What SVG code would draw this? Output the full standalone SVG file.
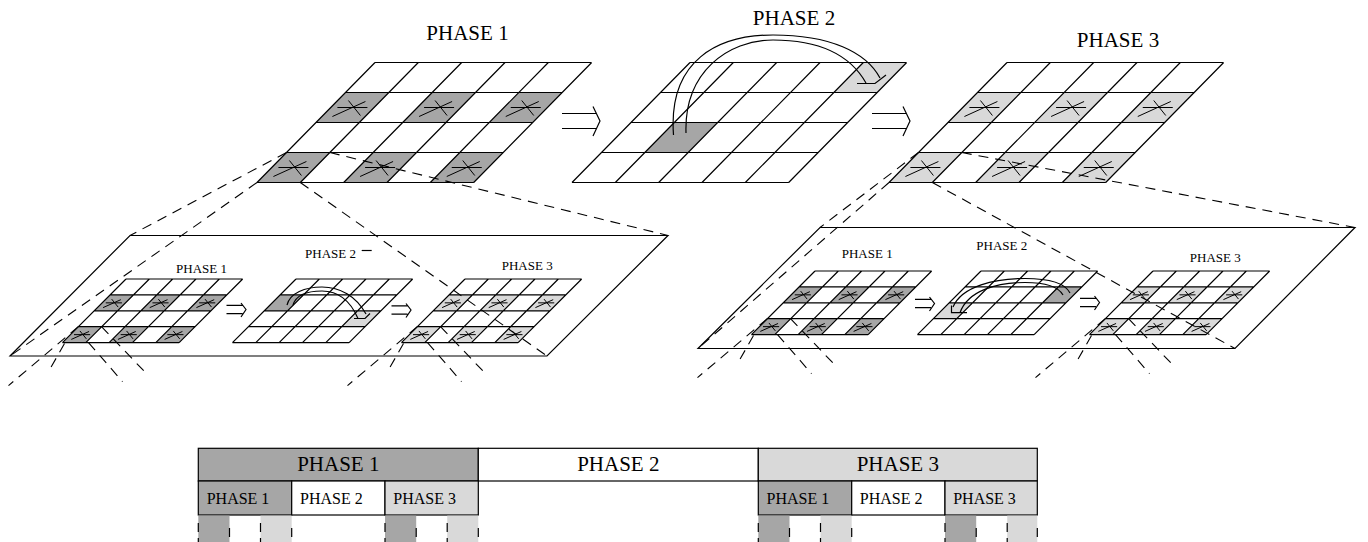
<svg xmlns="http://www.w3.org/2000/svg" xmlns:xlink="http://www.w3.org/1999/xlink" width="1368" height="542" viewBox="0 0 1368 542">
<style>
.ln{fill:none;stroke:#000;stroke-width:1.2}
.mk{fill:none;stroke:#000;stroke-width:1}
.dash{fill:none;stroke:#000;stroke-width:1.1;stroke-dasharray:10 7}
.dk{fill:#a6a6a6}
.lt{fill:#d9d9d9}
.wh{fill:#fff}
.box{stroke:#000;stroke-width:1.2}
.t1{font-family:"Liberation Serif","Times New Roman",serif;font-size:21px;text-anchor:middle;fill:#000}
.t2{font-family:"Liberation Serif","Times New Roman",serif;font-size:13px;text-anchor:middle;fill:#000}
.t3{font-family:"Liberation Serif","Times New Roman",serif;font-size:16px;fill:#000}
</style>
<defs>
<polygon id="bg" points="0,0 216.67,0 98.67,120 -118,120" fill="#fff"/>
<path id="gl" vector-effect="non-scaling-stroke" fill="none" stroke="#000" stroke-width="1.2" d="M0,0 H216.67 M-29.5,30 H187.17 M-59,60 H157.67 M-88.5,90 H128.17 M-118,120 H98.67 M0,0 L-118,120 M43.33,0 L-74.67,120 M86.67,0 L-31.33,120 M130,0 L12,120 M173.33,0 L55.33,120 M216.67,0 L98.67,120"/>
<g id="cells6">
<polygon points="-29.5,30 13.83,30 -15.67,60 -59,60"/>
<polygon points="57.17,30 100.5,30 71,60 27.67,60"/>
<polygon points="143.83,30 187.17,30 157.67,60 114.33,60"/>
<polygon points="-88.5,90 -45.17,90 -74.67,120 -118,120"/>
<polygon points="-1.83,90 41.5,90 12,120 -31.33,120"/>
<polygon points="84.83,90 128.17,90 98.67,120 55.33,120"/>
</g>
<path id="mk" vector-effect="non-scaling-stroke" fill="none" stroke="#000" stroke-width="1" d="M-15,0 H15 M-20,9 L13,-6 M-4,-7 L8,8"/>
<g id="marks6">
<use xlink:href="#mk" x="-22.58" y="45"/>
<use xlink:href="#mk" x="64.08" y="45"/>
<use xlink:href="#mk" x="150.75" y="45"/>
<use xlink:href="#mk" x="-81.58" y="105"/>
<use xlink:href="#mk" x="5.08" y="105"/>
<use xlink:href="#mk" x="91.75" y="105"/>
</g>
<path id="arrBig" class="ln" d="M0,-7.5 H34 M0,7.5 H34 M31,-14.5 L38,0 L31,15"/>
<path id="arrSm" class="ln" d="M0,-4.2 H16 M0,4.2 H16 M14.5,-6.5 L19.5,0 L14.5,7.5"/>
</defs>

<g id="plane-left">
<polygon class="box" fill="#fff" points="130,235.5 668,235.5 547,356 10,356"/>
</g>
<g id="plane-right">
<polygon class="box" fill="#fff" points="820,227.5 1355,227.5 1235,348.5 698,348.5"/>
</g>

<g id="left-phase1">
<g transform="translate(126,279) scale(0.5385,0.53)">
<use xlink:href="#bg"/><use xlink:href="#cells6" class="dk"/><use xlink:href="#gl"/><use xlink:href="#marks6"/>
</g>
<text class="t2" x="201.5" y="273.3">PHASE 1</text>
</g>
<g id="left-phase2">
<g transform="translate(296,279) scale(0.5385,0.53)">
<use xlink:href="#bg"/>
<polygon class="dk" points="-29.5,30 13.83,30 -15.67,60 -59,60"/>
<polygon class="lt" points="114.33,60 157.67,60 128.17,90 84.83,90"/>
<use xlink:href="#gl"/>
</g>
<text class="t2" x="330.5" y="258">PHASE 2</text>
</g>
<g id="left-phase3">
<g transform="translate(465,279) scale(0.5385,0.53)">
<use xlink:href="#bg"/><use xlink:href="#cells6" class="lt"/><use xlink:href="#gl"/><use xlink:href="#marks6"/>
</g>
<text class="t2" x="527.2" y="270">PHASE 3</text>
</g>

<g id="right-phase1">
<g transform="translate(815,271) scale(0.5385,0.53)">
<use xlink:href="#bg"/><use xlink:href="#cells6" class="dk"/><use xlink:href="#gl"/><use xlink:href="#marks6"/>
</g>
<text class="t2" x="867.2" y="258.3">PHASE 1</text>
</g>
<g id="right-phase2">
<g transform="translate(981,271) scale(0.5385,0.53)">
<use xlink:href="#bg"/>
<polygon class="dk" points="143.83,30 187.17,30 157.67,60 114.33,60"/>
<polygon class="lt" points="-59,60 -15.67,60 -45.17,90 -88.5,90"/>
<use xlink:href="#gl"/>
</g>
<text class="t2" x="1001.8" y="250">PHASE 2</text>
</g>
<g id="right-phase3">
<g transform="translate(1153,271) scale(0.5385,0.53)">
<use xlink:href="#bg"/><use xlink:href="#cells6" class="lt"/><use xlink:href="#gl"/><use xlink:href="#marks6"/>
</g>
<text class="t2" x="1215.3" y="261.7">PHASE 3</text>
</g>

<g id="top-phase1">
<g transform="translate(375,62.5)">
<use xlink:href="#bg"/><use xlink:href="#cells6" class="dk"/><use xlink:href="#gl"/><use xlink:href="#marks6"/>
</g>
<text class="t1" x="467.5" y="40">PHASE 1</text>
</g>
<g id="top-phase2">
<g transform="translate(690,62.5)">
<use xlink:href="#bg"/>
<polygon class="dk" points="-15.67,60 27.67,60 -1.83,90 -45.17,90"/>
<polygon class="lt" points="173.33,0 216.67,0 187.17,30 143.83,30"/>
<use xlink:href="#gl"/>
</g>
<text class="t1" x="794" y="25">PHASE 2</text>
</g>
<g id="top-phase3">
<g transform="translate(1007,62.5)">
<use xlink:href="#bg"/><use xlink:href="#cells6" class="lt"/><use xlink:href="#gl"/><use xlink:href="#marks6"/>
</g>
<text class="t1" x="1118" y="46.5">PHASE 3</text>
</g>

<g id="bar">
<rect class="dk box" x="198.3" y="448.3" width="280" height="32.7"/>
<rect class="wh box" x="478.3" y="448.3" width="280" height="32.7"/>
<rect class="lt box" x="758.3" y="448.3" width="279" height="32.7"/>
<rect class="dk box" x="198.3" y="481" width="93.4" height="34"/>
<rect class="wh box" x="291.7" y="481" width="93.3" height="34"/>
<rect class="lt box" x="385" y="481" width="93.3" height="34"/>
<rect class="dk box" x="758.3" y="481" width="93.4" height="34"/>
<rect class="wh box" x="851.7" y="481" width="93.3" height="34"/>
<rect class="lt box" x="945" y="481" width="92.3" height="34"/>
<text class="t1" x="338.3" y="471">PHASE 1</text>
<text class="t1" x="618.3" y="471">PHASE 2</text>
<text class="t1" x="897.8" y="471">PHASE 3</text>
<text class="t3" x="206.7" y="504">PHASE 1</text>
<text class="t3" x="300" y="504">PHASE 2</text>
<text class="t3" x="393.3" y="504">PHASE 3</text>
<text class="t3" x="766.5" y="504">PHASE 1</text>
<text class="t3" x="859.8" y="504">PHASE 2</text>
<text class="t3" x="953.2" y="504">PHASE 3</text>
<rect class="dk" x="198.3" y="515.6" width="31.2" height="27"/>
<rect class="lt" x="260.5" y="515.6" width="31.2" height="27"/>
<rect class="dk" x="385" y="515.6" width="31.2" height="27"/>
<rect class="lt" x="447.2" y="515.6" width="31.1" height="27"/>
<rect class="dk" x="758.3" y="515.6" width="31.2" height="27"/>
<rect class="lt" x="820.5" y="515.6" width="31.2" height="27"/>
<rect class="dk" x="945" y="515.6" width="31.2" height="27"/>
<rect class="lt" x="1007.2" y="515.6" width="30.1" height="27"/>
<path class="ln" d="M198.3,523 V532 M198.3,538 V542 M229.5,528 V537 M260.5,523 V532 M260.5,538 V542 M291.7,528 V537 M385,523 V532 M385,538 V542 M416.2,528 V537 M447.2,523 V532 M447.2,538 V542 M478.3,528 V537 M758.3,523 V532 M758.3,538 V542 M789.5,528 V537 M820.5,523 V532 M820.5,538 V542 M851.7,528 V537 M945,523 V532 M945,538 V542 M976.2,528 V537 M1007.2,523 V532 M1007.2,538 V542 M1037.3,528 V537"/>
</g>

<g id="connectors">
<use xlink:href="#arrBig" x="562" y="121"/>
<use xlink:href="#arrBig" x="872" y="121"/>
<use xlink:href="#arrSm" x="226.5" y="309.5"/>
<use xlink:href="#arrSm" x="391.5" y="310"/>
<use xlink:href="#arrSm" x="915" y="303.5"/>
<use xlink:href="#arrSm" x="1080" y="302.5"/>
<path class="ln" d="M673.5,135 C668,60 718,35 773,35 C830,35 866,52 880,78"/>
<path class="ln" d="M686,133 C684,72 728,40 773,40 C826,40 853,60 866,83"/>
<path class="ln" d="M857,83.5 L875,83.5 L886,75"/>
<path class="ln" d="M287,305 C290,293 305,287 322,287 C340,287 356,296 366,314"/>
<path class="ln" d="M293,305 C296,295 308,291 322,291 C337,291 350,300 358,318.5"/>
<path class="ln" d="M354,318.5 L365,318.5 L370,313.5"/>
<path class="ln" d="M1070,293 C1065,283 1048,278.5 1025,278.5 C995,278.5 962,286 953,307"/>
<path class="ln" d="M1063,295 C1058,286 1043,282.5 1025,282.5 C998,282.5 968,290 960,312.7"/>
<path class="ln" d="M951.5,305.5 L951.5,312.7 L967,312.7"/>
<path class="dash" d="M286.5,152.5 L130,235.5"/>
<path class="dash" d="M329.8,152.5 L668,235.5"/>
<path class="dash" d="M257,182.5 L10,356"/>
<path class="dash" d="M300.3,182.5 L547,356"/>
<path class="dash" d="M918.5,152.5 L820,227.5"/>
<path class="dash" d="M961.8,152.5 L1355,227.5"/>
<path class="dash" d="M889,182.5 L698,348.5"/>
<path class="dash" d="M932.3,182.5 L1235,348.5"/>
<path class="dash" d="M78.25,326.7 L8.5,385.6 M64.5,343.6 L48.5,371.6 M88.5,342.6 L122.5,381.6 M101.5,326.7 L145.5,372.6"/>
<path class="dash" d="M417.25,326.7 L347.5,385.6 M403.5,343.6 L387.5,371.6 M427.5,342.6 L461.5,381.6 M440.5,326.7 L484.5,372.6"/>
<path class="dash" d="M767.25,318.7 L697.5,377.6 M753.5,335.6 L737.5,363.6 M777.5,334.6 L811.5,373.6 M790.5,318.7 L834.5,364.6"/>
<path class="dash" d="M1105.25,318.7 L1035.5,377.6 M1091.5,335.6 L1075.5,363.6 M1115.5,334.6 L1149.5,373.6 M1128.5,318.7 L1172.5,364.6"/>
<path class="ln" d="M361.7,250.5 H371.7"/>
</g>
</svg>
